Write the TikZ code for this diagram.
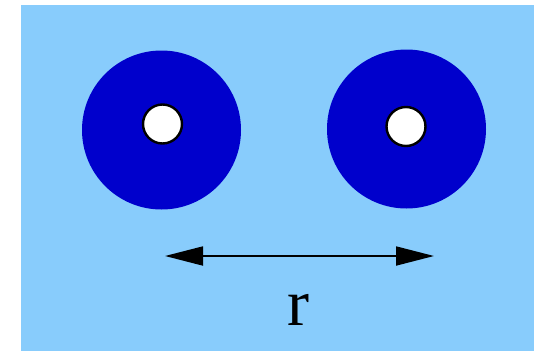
\documentclass[tikz,border=0pt]{standalone}
\usepackage{fontspec}
\setmainfont{Liberation Serif}
\usetikzlibrary{arrows.meta, positioning}
\definecolor{SkyBg}{HTML}{88CCFC}
\definecolor{AtomBlue}{HTML}{0000CC}

\begin{document}
\begin{tikzpicture}[x=1pt, y=-1pt,
            atom/.style={circle, fill=AtomBlue, inner sep=0pt, minimum size=159pt},
            core/.style={circle, draw=black, line width=2.4pt, fill=white, inner sep=0pt, minimum size=39pt},
            dist/.style={{Triangle[length=38pt, width=19pt]}-{Triangle[length=38pt, width=19pt]}, line width=1.8pt, color=black},
            lbl/.style={font=\fontsize{66}{66}\selectfont, anchor=base}
        ]
            % Background
            \useasboundingbox (0,0) rectangle (538,351);
            \fill[SkyBg] (20.5,4.5) rectangle (534,351);

            % Two atoms
            \node[atom] (left) at (161.5,130) {};
            \node[atom] (right) at (406.5,129) {};
            \node[core] (leftcore) at (162.5,124) {};
            \node[core] (rightcore) at (406,126.5) {};

            % Separation
            \coordinate (rstart) at (165,256);
            \coordinate (rend) at (434,256);
            \draw[dist] (rstart) -- (rend);
            \node[lbl] (rlabel) at (298,325) {r};
        \end{tikzpicture}
\end{document}
